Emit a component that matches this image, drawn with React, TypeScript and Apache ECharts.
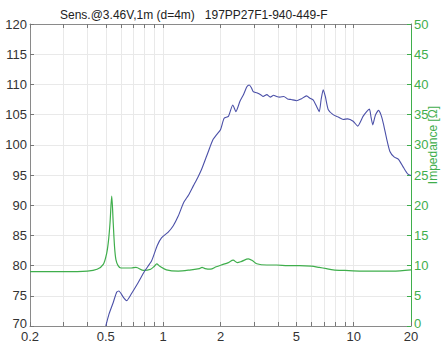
import React, { useEffect, useRef } from "react";
import * as echarts from "echarts";

const titleText = "Sens.@3.46V,1m (d=4m)   197PP27F1-940-449-F";
const impedanceName = "Impedance [Ω]";

const xLabelFreqs = [0.2, 0.5, 1, 2, 5, 10, 20];
const gridFreqs = [0.2, 0.3, 0.4, 0.5, 0.6, 0.7, 0.8, 0.9, 1, 2, 3, 4, 5, 6, 7, 8, 9, 10, 20];

const splFreq = [
  0.5, 0.52, 0.547, 0.57, 0.585, 0.62, 0.643, 0.68, 0.74, 0.8, 0.87, 0.93, 0.98, 1.06, 1.13, 1.2,
  1.28, 1.36, 1.44, 1.52, 1.59, 1.69, 1.76, 1.83, 1.9, 2.0, 2.09, 2.2, 2.32, 2.41, 2.53, 2.65, 2.75,
  2.83, 2.9, 2.97, 3.1, 3.25, 3.35, 3.5, 3.65, 3.8, 3.94, 4.1, 4.3, 4.5, 4.7, 5.02, 5.3, 5.66, 5.9,
  6.14, 6.4, 6.6, 6.75, 6.92, 7.1, 7.36, 7.8, 8.3, 8.82, 9.3, 9.94, 10.5, 11.2, 11.7, 12.1, 12.35,
  12.6, 13.0, 13.5, 13.9, 14.3, 14.9, 15.5, 16.3, 17.2, 18.3, 19.2, 20,
];
const splValues = [
  70, 72, 73.9, 75.6, 75.8, 74.7, 74.2, 75.3, 77.2, 79.1, 80.8, 83.3, 84.6, 85.5, 86.6, 88.2,
  90.4, 91.7, 93.2, 94.6, 95.9, 98.1, 99.6, 100.9, 101.6, 102.5, 104.4, 104.7, 106.6, 105.5, 107.2, 108.4, 109.6,
  109.9, 109.5, 108.8, 108.6, 108.3, 108.0, 108.3, 107.9, 108.2, 108.0, 107.9, 108.0, 107.6, 107.5, 107.3, 107.6, 108.1, 107.7,
  107.4, 106.3, 105.5, 107.5, 109.1, 108.0, 105.8, 105.0, 104.6, 104.2, 104.3, 103.9, 103.1, 104.7, 105.5, 105.9, 104.5,
  103.3, 104.9, 105.7, 105.0, 103.6, 101.0, 98.9, 98.0, 97.6, 96.2, 95.2, 94.9,
];

const impFreq = [
  0.2, 0.3, 0.4, 0.45, 0.485, 0.505, 0.516, 0.526, 0.537, 0.547, 0.556, 0.565, 0.58, 0.6, 0.68, 0.72,
  0.79, 0.86, 0.9, 0.925, 0.96, 1.04, 1.2, 1.4, 1.55, 1.6, 1.66, 1.77, 1.9, 2.02, 2.2, 2.33, 2.45,
  2.58, 2.8, 2.95, 3.1, 3.5, 3.94, 4.5, 5.2, 6.0, 6.6, 7.2, 7.8, 9, 11, 16, 20,
];
const impValues = [
  9.0, 9.0, 9.1, 9.4, 10.2, 12.0, 14.0, 17.0, 21.5, 17.0, 13.0, 11.0, 10.0, 9.6, 9.6, 9.7,
  9.2, 9.4, 9.9, 10.3, 9.9, 9.3, 9.1, 9.3, 9.5, 9.7, 9.5, 9.4, 9.8, 10.1, 10.5, 10.9, 10.5,
  10.7, 11.1, 10.8, 10.3, 10.1, 10.1, 10.0, 10.0, 9.9, 9.7, 9.5, 9.3, 9.2, 9.1, 9.1, 9.3,
];

const lg = (f: number) => Math.log10(f);
const BLUE = "#4b50a8";
const GREEN = "#3fae4c";
const AXIS_GRAY = "#8a8a8a";
const GRID_GRAY = "#e9e9e9";
const FONT = "Liberation Sans";

export default function App() {
  const ref = useRef<HTMLDivElement>(null);
  useEffect(() => {
    if (!ref.current) return;
    const chart = echarts.init(ref.current, null, { renderer: "svg" });
    const xMin = lg(0.2);
    const xMax = lg(20);
    const tickVals = gridFreqs.map(lg);
    const labelVals = xLabelFreqs.map(lg);
    const fmt = (v: number) => String(Number(Math.pow(10, v).toPrecision(2)));
    const yFmt = (min: number) => (v: number) => (v === min ? `{lift|${v}}` : String(v));
    chart.setOption({
      animation: false,
      backgroundColor: "#ffffff",
      title: {
        text: titleText,
        left: 60,
        top: 9,
        padding: 0,
        textStyle: { fontFamily: FONT, fontSize: 12, fontWeight: "normal", color: "#222" },
      },
      grid: { left: 30, right: 31, top: 24, bottom: 16, containLabel: false },
      graphic: [
        {
          type: "text",
          x: 433,
          y: 145,
          rotation: Math.PI / 2,
          style: {
            text: impedanceName,
            fill: GREEN,
            font: `12px ${FONT}`,
            align: "center",
            verticalAlign: "middle",
          },
        },
      ],
      xAxis: [
        {
          type: "value",
          min: xMin,
          max: xMax,
          position: "bottom",
          axisLine: { show: true, onZero: false, lineStyle: { color: AXIS_GRAY, width: 1 } },
          axisTick: { show: true, inside: true, length: 4, customValues: tickVals, lineStyle: { color: "#777" } },
          splitLine: { show: true, lineStyle: { color: GRID_GRAY, width: 1 } },
          axisLabel: {
            show: true,
            customValues: labelVals,
            formatter: fmt,
            margin: 4,
            color: "#333",
            fontFamily: FONT,
            fontSize: 13,
          },
        },
        {
          type: "value",
          min: xMin,
          max: xMax,
          position: "top",
          axisLine: { show: true, onZero: false, lineStyle: { color: AXIS_GRAY, width: 1 } },
          axisTick: { show: true, inside: true, length: 4, customValues: tickVals, lineStyle: { color: "#777" } },
          splitLine: { show: false },
          axisLabel: { show: false },
        },
      ],
      yAxis: [
        {
          type: "value",
          min: 70,
          max: 120,
          interval: 5,
          position: "left",
          axisLine: { show: true, onZero: false, lineStyle: { color: AXIS_GRAY, width: 1 } },
          axisTick: { show: true, inside: true, length: 4, lineStyle: { color: "#777" } },
          splitLine: { show: true, lineStyle: { color: GRID_GRAY, width: 1 } },
          axisLabel: {
            margin: 3,
            color: "#333",
            fontFamily: FONT,
            fontSize: 13,
            formatter: yFmt(70),
            rich: { lift: { color: "#333", fontFamily: FONT, fontSize: 13, padding: [0, 0, 6, 0] } },
          },
        },
        {
          type: "value",
          min: 0,
          max: 50,
          interval: 5,
          position: "right",
          axisLine: { show: true, onZero: false, lineStyle: { color: GREEN, width: 1 } },
          axisTick: { show: true, inside: true, length: 4, lineStyle: { color: GREEN } },
          splitLine: { show: false },
          axisLabel: {
            margin: 3,
            color: GREEN,
            fontFamily: FONT,
            fontSize: 13,
            formatter: yFmt(0),
            rich: { lift: { color: GREEN, fontFamily: FONT, fontSize: 13, padding: [0, 0, 6, 0] } },
          },
        },
      ],
      series: [
        {
          type: "line",
          xAxisIndex: 0,
          yAxisIndex: 1,
          data: impFreq.map((f, i) => [lg(f), impValues[i]]),
          showSymbol: false,
          smooth: 0.3,
          lineStyle: { color: GREEN, width: 1.2 },
          itemStyle: { color: GREEN },
          clip: true,
        },
        {
          type: "line",
          xAxisIndex: 0,
          yAxisIndex: 0,
          data: splFreq.map((f, i) => [lg(f), splValues[i]]),
          showSymbol: false,
          smooth: 0.2,
          lineStyle: { color: BLUE, width: 1.1 },
          itemStyle: { color: BLUE },
          clip: true,
        },
      ],
    });
    return () => chart.dispose();
  }, []);
  return <div ref={ref} style={{ position: "fixed", left: 0, top: 0, width: 442, height: 343 }} />;
}
